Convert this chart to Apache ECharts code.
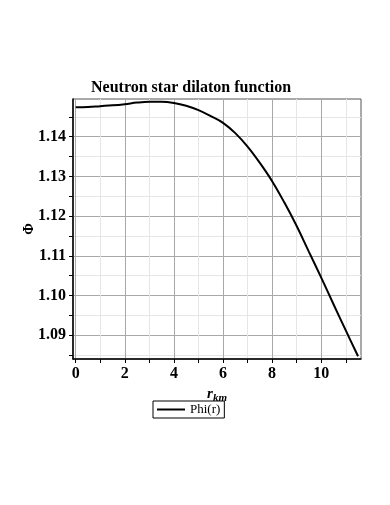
<!DOCTYPE html>
<html>
<head>
<meta charset="utf-8">
<script src="https://cdn.jsdelivr.net/npm/echarts@6/dist/echarts.min.js"></script>
<style>
    html, body { margin: 0; padding: 0; background: #fff; }
    #chart { width: 390px; height: 505px; }
</style>
</head>
<body>
<div id="chart"></div>
<script>
// radius in km
const rKm = [0, 0.5, 1, 1.5, 2, 2.5, 3, 3.5, 4, 4.5, 5, 5.5, 6, 6.5, 7, 7.5, 8, 8.5, 9, 9.5, 10, 10.5, 11, 11.5]
// dilaton Phi(r)
const phi = [1.1474, 1.1475, 1.1477, 1.1479, 1.1482, 1.1486, 1.1488, 1.1488, 1.1485, 1.1478, 1.1467, 1.1452,
    1.1435, 1.1409, 1.1375, 1.1334, 1.1288, 1.1234, 1.1175, 1.1110, 1.1045, 1.0978, 1.0912, 1.0847]

const xLabels = [0, 2, 4, 6, 8, 10]
const xTicks = [0, 1, 2, 3, 4, 5, 6, 7, 8, 9, 10, 11]
const yLabels = [1.09, 1.10, 1.11, 1.12, 1.13, 1.14]
const yTicks = [1.085, 1.09, 1.095, 1.10, 1.105, 1.11, 1.115, 1.12, 1.125, 1.13, 1.135, 1.14, 1.145]

const serif = '"Liberation Serif", "DejaVu Serif", serif'
const majorGrid = '#a8a8a8'
const minorGrid = '#e6e6e6'

const chart = echarts.init(document.getElementById('chart'))
const option = {
    animation: false,
    title: {
        text: 'Neutron star dilaton function',
        left: 91,
        top: 80,
        padding: 0,
        textStyle: {fontFamily: serif, fontWeight: 'bold', fontSize: 16, color: '#000'}
    },
    grid: {
        left: 73, right: 29, top: 99, bottom: 146,
        show: true, borderColor: '#555', borderWidth: 1
    },
    legend: {
        left: 153, top: 401,
        padding: [2, 4, 2, 4],
        borderColor: '#000', borderWidth: 1,
        itemWidth: 28, itemHeight: 8,
        textStyle: {fontFamily: serif, fontSize: 13, color: '#000'},
        data: [{name: 'Phi(r)', icon: 'path://M0,0 L28,0 L28,2 L0,2 Z'}]
    },
    xAxis: {
        type: 'value',
        min: -0.11, max: 11.62,
        name: '{r|r}{k|km}',
        nameLocation: 'middle',
        nameGap: 25,
        nameMoveOverlap: false,
        nameTextStyle: {
            rich: {
                r: {fontFamily: serif, fontStyle: 'italic', fontWeight: 'bold', fontSize: 15, color: '#000'},
                k: {fontFamily: serif, fontStyle: 'italic', fontWeight: 'bold', fontSize: 11, color: '#000', padding: [9, 0, 0, 0]}
            }
        },
        axisLine: {onZero: false, lineStyle: {color: '#000', width: 1.5}},
        axisTick: {customValues: xTicks, length: 4, lineStyle: {color: '#000'}},
        axisLabel: {
            customValues: xLabels, margin: 7,
            fontFamily: serif, fontWeight: 'bold', fontSize: 16, color: '#000'
        },
        splitLine: {show: true, lineStyle: {color: [majorGrid, minorGrid], width: 1}}
    },
    yAxis: {
        type: 'value',
        min: 1.0840, max: 1.1495,
        name: 'Φ',
        nameLocation: 'middle',
        nameRotate: 90,
        nameGap: 37,
        nameMoveOverlap: false,
        nameTextStyle: {fontFamily: serif, fontWeight: 'bold', fontSize: 14, color: '#000'},
        axisLine: {onZero: false, lineStyle: {color: '#000', width: 1.5}},
        axisTick: {customValues: yTicks, length: 4, lineStyle: {color: '#000'}},
        axisLabel: {
            customValues: yLabels, margin: 7,
            formatter: (v) => v.toFixed(2),
            fontFamily: serif, fontWeight: 'bold', fontSize: 16, color: '#000'
        },
        splitLine: {show: true, lineStyle: {color: [minorGrid, majorGrid], width: 1}}
    },
    series: [
        {
            name: 'Phi(r)',
            type: 'line',
            data: rKm.map((r, i) => [r, phi[i]]),
            smooth: 0.4,
            showSymbol: false,
            lineStyle: {color: '#000', width: 2},
            itemStyle: {color: '#000'}
        }
    ]
}
chart.setOption(option)
</script>
</body>
</html>
